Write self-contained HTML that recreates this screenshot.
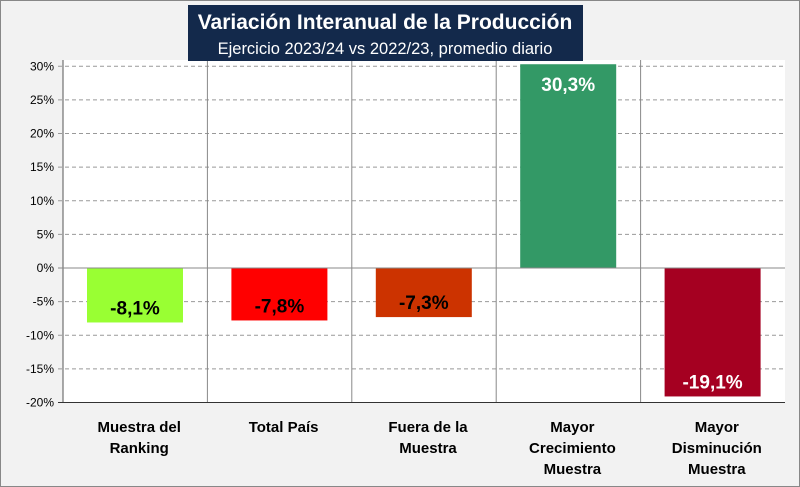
<!DOCTYPE html>
<html><head><meta charset="utf-8"><style>
body{margin:0;width:800px;height:487px;overflow:hidden;background:#f2f2f2;font-family:"Liberation Sans",sans-serif}
#frame{position:absolute;left:0;top:0;width:798px;height:485px;border:1px solid #888;background:#f2f2f2}
</style></head><body>
<div id="frame"></div>
<svg id="chart" width="800" height="487" style="position:absolute;left:0;top:0"></svg>
<script>
const categories=[["Muestra del","Ranking"],["Total País"],["Fuera de la","Muestra"],["Mayor","Crecimiento","Muestra"],["Mayor","Disminución","Muestra"]];
const values=[-8.1,-7.8,-7.3,30.3,-19.1];
const labels=["-8,1%","-7,8%","-7,3%","30,3%","-19,1%"];
const colors=["#99ff33","#ff0000","#cc3300","#339966","#a50021"];
const labelColors=["#000","#000","#000","#fff","#fff"];
const ticks=[30,25,20,15,10,5,0,-5,-10,-15,-20];
const tickLabels=["30%","25%","20%","15%","10%","5%","0%","-5%","-10%","-15%","-20%"];
const NS="http://www.w3.org/2000/svg";
const svg=document.getElementById('chart');
const L=63,R=785,T=60,B=402.5;
const y=v=>268+(0-v)*(134.5/20);
const cw=(R-L)/categories.length;
const x=i=>L+i*cw;
function mk(t,a,p){const e=document.createElementNS(NS,t);for(const k in a)e.setAttribute(k,a[k]);(p||svg).appendChild(e);return e;}
const plot=mk('rect',{x:L,y:T,width:R-L,height:B-T,fill:'#fff'});


ticks.forEach((t,i)=>{
  if(t!==0&&t!==-20){const g=mk('line',{x1:L-5,x2:R,y1:y(t),y2:y(t),stroke:'#999','stroke-dasharray':'4,3'});
  
  }
  const tl=mk('text',{x:L-9,y:y(t)+4,'text-anchor':'end','font-size':'12',fill:'#000'});
  tl.textContent=tickLabels[i];
  
  
});
for(let i=1;i<categories.length;i++){const v=mk('line',{x1:x(i),x2:x(i),y1:T,y2:B,stroke:'#888'});

}
mk('line',{x1:L,x2:L,y1:T,y2:B,stroke:'#555'});
mk('line',{x1:L-5,x2:R,y1:B,y2:B,stroke:'#333'});
values.forEach((v,i)=>{
  const bx=x(i)+24,bw=96;
  const r=mk('rect',{x:bx,y:Math.min(y(v),y(0)),width:bw,height:Math.abs(y(v)-y(0)),fill:colors[i]});
  
  
  const ly=v>=0?y(v)+27:y(v)-8;
  const t=mk('text',{x:bx+bw/2,y:ly,'text-anchor':'middle','font-size':'19','font-weight':'bold',fill:labelColors[i]});
  t.textContent=labels[i];
  
  
});
mk('line',{x1:L-5,x2:R,y1:y(0),y2:y(0),stroke:'#888'});
categories.forEach((c,i)=>{
  c.forEach((ln,j)=>{const t=mk('text',{x:x(i)+cw/2+4,y:432+j*21,'text-anchor':'middle','font-size':'15','font-weight':'bold',fill:'#000'});
  t.textContent=ln;
  
  });
});
const tb=mk('rect',{x:188,y:5,width:395,height:56,fill:'#13294b'});


const t1=mk('text',{x:385,y:29,'text-anchor':'middle','font-size':'21','font-weight':'bold',fill:'#fff'});
t1.textContent='Variación Interanual de la Producción';


const t2=mk('text',{x:385,y:54,'text-anchor':'middle','font-size':'16.5',fill:'#fff'});
t2.textContent='Ejercicio 2023/24 vs 2022/23, promedio diario';


</script>
</body></html>
